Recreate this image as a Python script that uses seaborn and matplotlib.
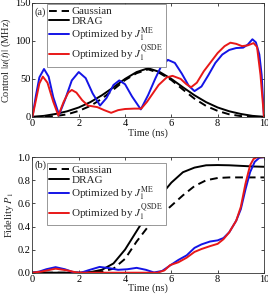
import numpy as np
import pandas as pd
import matplotlib
matplotlib.use("Agg")
import matplotlib.pyplot as plt
import seaborn as sns

# ---- panel (a): control amplitude |u(t)| (MHz) ----
t_ref = [0, 0.5, 1, 1.5, 2, 2.5, 3, 3.5, 4, 4.5, 5, 5.5, 6, 6.5, 7, 7.5, 8, 8.5, 9, 9.5, 10]
gauss_u = [0, 0.3, 1.2, 3.5, 8, 14.5, 24, 36, 48.5, 57.5, 62.5, 57.5, 48.5, 36, 24, 14.5, 8, 3.5, 1.2, 0.3, 0]
drag_u = [0.3, 1.5, 4, 7.5, 12.5, 19.5, 28.5, 39, 50, 59, 64, 59, 50, 39, 28.5, 19.5, 12.5, 7.5, 4, 1.5, 0.3]

blue_t = [0, 0.15, 0.3, 0.5, 0.7, 0.9, 1.15, 1.4, 1.7, 2.0, 2.3, 2.6, 2.92, 3.2, 3.5, 3.75, 4.0,
          4.3, 4.68, 5.0, 5.3, 5.55, 5.85, 6.15, 6.45, 6.75, 7.0, 7.3, 7.6, 7.9, 8.2, 8.5, 8.8,
          9.1, 9.3, 9.5, 9.65, 9.8, 9.9, 10]
blue_u = [0, 28, 52, 63, 53, 26, 3, 22, 48, 59, 51, 31, 15, 25, 42, 48, 43,
          27, 10, 29, 50, 66, 75, 71, 57, 41, 34, 40, 55, 71, 82, 88, 90.5,
          91, 95, 102, 98, 82, 55, 0]

red_t = [0, 0.15, 0.3, 0.45, 0.65, 0.9, 1.12, 1.35, 1.55, 1.7, 1.9, 2.15, 2.4, 2.8, 3.1, 3.4,
         3.7, 4.0, 4.4, 4.7, 4.95, 5.2, 5.45, 5.8, 6.05, 6.4, 6.65, 6.85, 7.1, 7.4, 7.7,
         8.0, 8.3, 8.55, 8.8, 9.05, 9.3, 9.55, 9.7, 9.85, 10]
red_u = [0, 22, 44, 53, 45, 20, 2, 20, 32, 35.5, 32, 22, 15, 13, 9, 5.5,
         9, 10.5, 11, 11, 20, 31, 42, 52, 54, 50, 43, 39, 45, 60, 72,
         84, 93, 97.5, 96, 93, 94, 97, 92, 55, 0]

# ---- panel (b): fidelity P_1 ----
gauss_p = [0, 0, 0, 0, 0, 0.002, 0.01, 0.035, 0.12, 0.27, 0.4, 0.49, 0.58, 0.67, 0.75, 0.8, 0.82, 0.825, 0.825, 0.825, 0.825]
drag_p = [0, 0, 0, 0, 0, 0.005, 0.025, 0.08, 0.2, 0.36, 0.52, 0.66, 0.78, 0.87, 0.91, 0.93, 0.932, 0.93, 0.925, 0.92, 0.917]

blue_pt = [0, 0.3, 0.6, 1.0, 1.4, 1.8, 2.1, 2.4, 2.9, 3.3, 3.7, 4.1, 4.5, 4.9, 5.25, 5.6, 6.0,
           6.3, 6.66, 7.0, 7.3, 7.67, 8.0, 8.25, 8.5, 8.8, 9.0, 9.2, 9.4, 9.6, 9.8, 10]
blue_p = [0, 0.01, 0.03, 0.048, 0.03, 0.002, 0, 0.02, 0.05, 0.04, 0.025, 0.03, 0.042, 0.025, 0.002, 0.015, 0.07,
          0.11, 0.15, 0.215, 0.245, 0.27, 0.28, 0.3, 0.35, 0.45, 0.55, 0.72, 0.87, 0.96, 0.995, 1.0]

red_pt = [0, 0.4, 1.0, 1.5, 1.9, 2.2, 5.4, 5.7, 5.95, 6.3, 6.66, 7.0, 7.3, 7.67, 8.0, 8.25, 8.5,
          8.8, 9.0, 9.2, 9.4, 9.55, 9.7, 10]
red_p = [0, 0.01, 0.035, 0.02, 0.002, 0, 0, 0.02, 0.066, 0.09, 0.13, 0.18, 0.205, 0.23, 0.25, 0.29, 0.35,
         0.45, 0.57, 0.77, 0.93, 0.985, 1.0, 1.0]

labels = ["Gaussian", "DRAG", r"Optimized by $J_1^{\rm ME}$", r"Optimized by $J_1^{\rm QSDE}$"]
BLUE = "#1414e6"
RED = "#e81818"

sns.set_theme(style="ticks")
plt.rcParams["font.family"] = ["Liberation Serif", "DejaVu Serif"]
plt.rcParams["mathtext.fontset"] = "stix"
plt.rcParams["font.size"] = 7.5

fig = plt.figure(figsize=(2.68, 3.0), dpi=100)
ax1 = fig.add_axes([0.121, 0.61, 0.864, 0.381])
ax2 = fig.add_axes([0.121, 0.091, 0.864, 0.385])

lw = 1.4


def draw(ax, tg, g, d, bt, b, rt, r):
    sns.lineplot(x=tg, y=g, ax=ax, color="black", lw=lw, linestyle=(0, (4, 2.5)), label=labels[0])
    sns.lineplot(x=tg, y=d, ax=ax, color="black", lw=lw, label=labels[1])
    sns.lineplot(x=bt, y=b, ax=ax, color=BLUE, lw=lw, label=labels[2])
    sns.lineplot(x=rt, y=r, ax=ax, color=RED, lw=lw, label=labels[3])


draw(ax1, t_ref, gauss_u, drag_u, blue_t, blue_u, red_t, red_u)
draw(ax2, t_ref, gauss_p, drag_p, blue_pt, blue_p, red_pt, red_p)

ax1.set_ylim(0, 150)
ax1.set_yticks([0, 50, 100, 150])
ax1.set_ylabel(r"Control $|u(t)|$ (MHz)", fontsize=7.5, labelpad=1)
ax2.set_ylim(0, 1.0)
ax2.set_yticks([0, 0.2, 0.4, 0.6, 0.8, 1.0])
ax2.set_yticklabels(["0.0", "0.2", "0.4", "0.6", "0.8", "1.0"])
ax2.set_ylabel(r"Fidelity $P_1$", fontsize=7.5, labelpad=1)

for ax, tag, top in [(ax1, "(a)", 0.985), (ax2, "(b)", 0.95)]:
    ax.set_xlim(0, 10)
    ax.set_xticks([0, 2, 4, 6, 8, 10])
    ax.set_xlabel("Time (ns)", fontsize=7.5, labelpad=0)
    ax.tick_params(direction="in", top=True, right=True, labelsize=7.5, length=2.5,
                   width=0.5, pad=1.5, colors="black")
    for s in ax.spines.values():
        s.set_linewidth(0.6)
        s.set_color("#333333")
    ax.text(0.01, 0.92 if tag == "(a)" else 0.93, tag, transform=ax.transAxes,
            fontsize=7.5, va="center", ha="left")
    leg = ax.legend(loc="upper left", bbox_to_anchor=(0.063, top), borderaxespad=0,
                    fontsize=8, frameon=True, fancybox=False, framealpha=1,
                    handlelength=1.8, handletextpad=0.2, labelspacing=0.0, borderpad=0.2)
    leg.get_frame().set_edgecolor("#888888")
    leg.get_frame().set_linewidth(0.6)

fig.savefig("out.png", dpi=100)
